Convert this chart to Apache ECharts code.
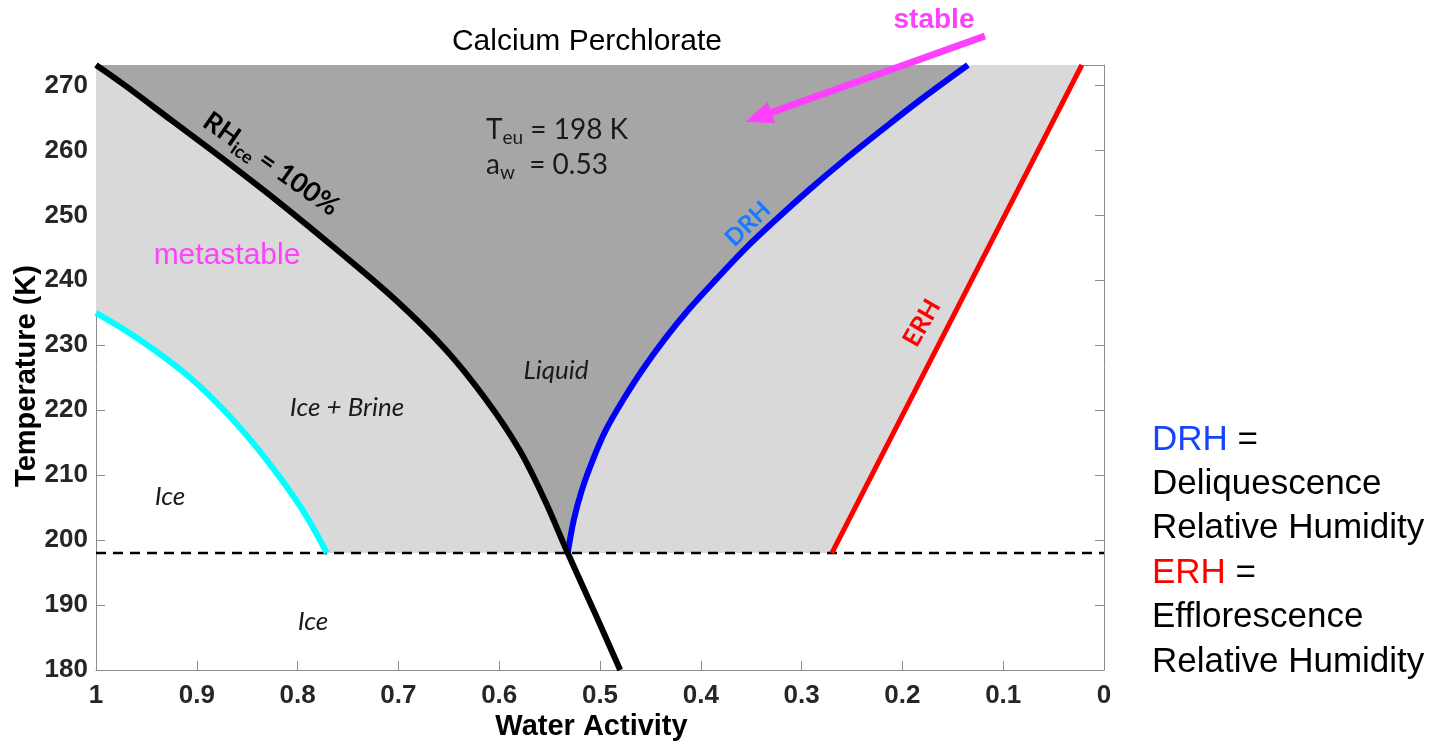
<!DOCTYPE html>
<html><head><meta charset="utf-8">
<script src="https://cdn.jsdelivr.net/npm/echarts@6/dist/echarts.min.js"></script>
<style>html,body{margin:0;padding:0;background:#fff}#c{width:1435px;height:746px}</style>
</head><body><div id="c"></div>
<script>
// ---- data ----
// Ice melting curve, RH_ice = 100% (black)
const iceAw = [1.000, 0.973, 0.924, 0.874, 0.820, 0.761, 0.703, 0.653, 0.613, 0.580, 0.555, 0.532, 0.506, 0.480];
const iceT  = [273.15, 270.2, 264.5, 258.7, 252.2, 244.7, 237.0, 229.3, 221.6, 213.9, 206.2, 198.0, 189.1, 180.0];
// Homogeneous freezing / metastable limit (cyan)
const homAw = [1.000, 0.957, 0.908, 0.867, 0.831, 0.797, 0.771];
const homT  = [235.0, 230.9, 225.2, 219.0, 212.4, 205.1, 198.0];
// Deliquescence RH (blue)
const drhAw = [0.532, 0.526, 0.518, 0.507, 0.494, 0.477, 0.458, 0.436, 0.412, 0.385, 0.357, 0.325, 0.292, 0.257, 0.220, 0.182, 0.135];
const drhT  = [198.0, 203.1, 207.7, 212.4, 217.0, 221.6, 226.2, 230.9, 235.5, 240.1, 244.7, 249.4, 254.0, 258.6, 263.2, 267.8, 273.15];
// Efflorescence RH (red)
const erhAw = [0.270, 0.022];
const erhT  = [198.0, 273.15];
// Eutectic temperature (dashed)
const eutecticT = 198;
const eutLineAw = [1, 0];
// Axis extents / ticks
const awMin = 0, awMax = 1, awStep = 0.1;
const tMin = 180, tMax = 273.15, tStep = 10;

function zip(a, b) { return a.map((v, i) => [v, b[i]]); }
const icePts = zip(iceAw, iceT);
const homPts = zip(homAw, homT);
const drhPts = zip(drhAw, drhT);
const erhPts = zip(erhAw, erhT);
const eutPts = eutLineAw.map(a => [a, eutecticT]);

const lightPoly = [].concat(homPts, erhPts, [[awMax, tMax]]);
const darkPoly = [].concat(icePts.filter(p => p[1] >= eutecticT), drhPts);

function polySeries(poly, color) {
  return {
    type: 'custom', z: 1, silent: true, clip: true,
    data: poly, encode: { x: 0, y: 1 },
    renderItem: function (params, api) {
      if (params.dataIndex !== 0) return null;
      return { type: 'polygon', shape: { points: poly.map(p => api.coord(p)) }, style: { fill: color } };
    }
  };
}
function lineSeries(pts, color, width, z, dash, smooth) {
  return {
    type: 'line', data: pts, symbol: 'none', showSymbol: false, silent: true, clip: false, z: z,
    smooth: smooth || false,
    lineStyle: { color: color, width: width, type: dash || 'solid', cap: 'butt' }
  };
}

const AX = '#8c8c8c', LBL = '#262626', SANS = 'Liberation Sans', CAL = 'Lato', MAG = '#ff40ff';
const axisCommon = { axisLine: { show: true, onZero: false, lineStyle: { color: AX, width: 1 } }, splitLine: { show: false } };

function txt(x, y, text, style, rot) {
  const s = Object.assign({ text: text, x: 0, y: 0, align: 'center', verticalAlign: 'middle', textAlign: 'center', textVerticalAlign: 'middle', fill: '#000' }, style);
  const e = { type: 'text', x: x, y: y, z: 100, silent: true, style: s };
  if (rot) e.rotation = rot * Math.PI / 180;
  return e;
}

const chart = echarts.init(document.getElementById('c'));
chart.setOption({
  animation: false,
  backgroundColor: '#fff',
  grid: { left: 96, right: 331, top: 65, bottom: 76, containLabel: false, outerBoundsMode: 'none' },
  xAxis: [
    Object.assign({}, axisCommon, {
      type: 'value', min: awMin, max: awMax, interval: awStep, inverse: true, position: 'bottom',
      axisTick: { show: true, inside: true, length: 9, lineStyle: { color: AX } },
      axisLabel: { margin: 13, fontSize: 26, fontWeight: 'bold', fontFamily: SANS, color: LBL,
        formatter: v => String(Math.round(v * 10) / 10) },
      name: 'Water Activity', nameLocation: 'middle', nameGap: 42, nameMoveOverlap: false,
      nameTextStyle: { fontSize: 29, fontWeight: 'bold', fontFamily: SANS, color: '#000', padding: [0, 17, 0, 0] }
    }),
    Object.assign({}, axisCommon, {
      type: 'value', min: awMin, max: awMax, interval: awStep, inverse: true, position: 'top',
      axisTick: { show: false }, axisLabel: { show: false }
    })
  ],
  yAxis: [
    Object.assign({}, axisCommon, {
      type: 'value', min: tMin, max: tMax, interval: tStep, position: 'left',
      axisTick: { show: true, inside: true, length: 9, lineStyle: { color: AX } },
      axisLabel: { margin: 8, fontSize: 26, fontWeight: 'bold', fontFamily: SANS, color: LBL,
        formatter: v => (Math.abs(v % 10) < 1e-6 ? String(Math.round(v)) : '') },
      name: 'Temperature (K)', nameLocation: 'middle', nameGap: 55, nameRotate: 90, nameMoveOverlap: false,
      nameTextStyle: { fontSize: 29, fontWeight: 'bold', fontFamily: SANS, color: '#000', padding: [0, 17, 0, 0] }
    }),
    Object.assign({}, axisCommon, {
      type: 'value', min: tMin, max: tMax, interval: tStep, position: 'right',
      axisTick: { show: true, inside: true, length: 9, lineStyle: { color: AX } },
      axisLabel: { show: false }
    })
  ],
  series: [
    polySeries(lightPoly, '#d9d9d9'),
    polySeries(darkPoly, '#a6a6a6'),
    lineSeries(eutPts, '#000', 2.5, 2, [10, 7]),
    lineSeries(homPts, '#00ffff', 6, 3, null, 0.35),
    lineSeries(erhPts, '#ff0000', 5, 3),
    lineSeries(drhPts, '#0000ff', 6, 3, null, 0.35),
    lineSeries(icePts, '#000000', 6, 4, null, 0.35)
  ],
  graphic: [
    txt(587, 42, 'Calcium Perchlorate', { fontSize: 30, fontFamily: SANS, fill: '#000' }),
    txt(934, 20, 'stable', { fontSize: 28, fontWeight: 'bold', fontFamily: SANS, fill: MAG }),
    { type: 'line', z: 100, silent: true, shape: { x1: 985, y1: 36, x2: 770, y2: 113 }, style: { stroke: MAG, lineWidth: 7 } },
    { type: 'polygon', z: 100, silent: true, shape: { points: [[745, 122], [775, 123], [767.6, 102.3]] }, style: { fill: MAG } },
    { type: 'text', x: 486, y: 130, z: 100, silent: true, style: { text: '{m|T}{s|eu}{m| = 198 K}', align: 'left', verticalAlign: 'middle', textAlign: 'left', textVerticalAlign: 'middle',
      rich: { m: { fontSize: 28, fontFamily: CAL, fill: '#1a1a1a', color: '#1a1a1a', lineHeight: 34 }, s: { fontSize: 19, fontFamily: CAL, fill: '#1a1a1a', color: '#1a1a1a', verticalAlign: 'bottom', lineHeight: 19 } } } },
    { type: 'text', x: 486, y: 165, z: 100, silent: true, style: { text: '{m|a}{s|w}{m|  = 0.53}', align: 'left', verticalAlign: 'middle', textAlign: 'left', textVerticalAlign: 'middle',
      rich: { m: { fontSize: 28, fontFamily: CAL, fill: '#1a1a1a', color: '#1a1a1a', lineHeight: 34 }, s: { fontSize: 19, fontFamily: CAL, fill: '#1a1a1a', color: '#1a1a1a', verticalAlign: 'bottom', lineHeight: 19 } } } },
    { type: 'text', x: 271, y: 164, z: 100, silent: true, rotation: -35 * Math.PI / 180, style: { text: '{m|RH}{s|ice}{m| = 100%}', x: 0, y: 0, align: 'center', verticalAlign: 'middle', textAlign: 'center', textVerticalAlign: 'middle',
      rich: { m: { fontSize: 27, fontFamily: CAL, fontWeight: 'bold', fill: '#000', color: '#000', lineHeight: 34 }, s: { fontSize: 18, fontFamily: CAL, fontWeight: 'bold', fill: '#000', color: '#000', verticalAlign: 'bottom', lineHeight: 18 } } } },
    txt(748, 224, 'DRH', { fontSize: 24, fontWeight: 'bold', fontFamily: CAL, fill: '#1a7aff' }, 44),
    txt(922, 323, 'ERH', { fontSize: 25, fontWeight: 'bold', fontFamily: CAL, fill: '#ff0000' }, 60),
    txt(227, 256, 'metastable', { fontSize: 30, fontFamily: SANS, fill: MAG }),
    txt(556, 371, 'Liquid', { fontSize: 26, fontStyle: 'italic', fontFamily: CAL, fill: '#1a1a1a' }),
    txt(347, 408, 'Ice + Brine', { fontSize: 26, fontStyle: 'italic', fontFamily: CAL, fill: '#1a1a1a' }),
    txt(170, 497, 'Ice', { fontSize: 26, fontStyle: 'italic', fontFamily: CAL, fill: '#1a1a1a' }),
    txt(313, 622, 'Ice', { fontSize: 26, fontStyle: 'italic', fontFamily: CAL, fill: '#1a1a1a' }),
    { type: 'text', x: 1152, y: 440, z: 100, silent: true, style: { text: '{c|DRH} =', align: 'left', verticalAlign: 'middle', textAlign: 'left', textVerticalAlign: 'middle', fontSize: 35, fontFamily: SANS, fill: '#000', rich: { c: { fontSize: 35, fontFamily: SANS, fill: '#1543ff', color: '#1543ff' } } } },
    txt(1152, 484, 'Deliquescence', { fontSize: 35, fontFamily: SANS, align: 'left', textAlign: 'left' }),
    txt(1152, 528, 'Relative Humidity', { fontSize: 35, fontFamily: SANS, align: 'left', textAlign: 'left' }),
    { type: 'text', x: 1152, y: 573, z: 100, silent: true, style: { text: '{c|ERH} =', align: 'left', verticalAlign: 'middle', textAlign: 'left', textVerticalAlign: 'middle', fontSize: 35, fontFamily: SANS, fill: '#000', rich: { c: { fontSize: 35, fontFamily: SANS, fill: '#ff0000', color: '#ff0000' } } } },
    txt(1152, 617, 'Efflorescence', { fontSize: 35, fontFamily: SANS, align: 'left', textAlign: 'left' }),
    txt(1152, 662, 'Relative Humidity', { fontSize: 35, fontFamily: SANS, align: 'left', textAlign: 'left' })
  ]
});
</script></body></html>
